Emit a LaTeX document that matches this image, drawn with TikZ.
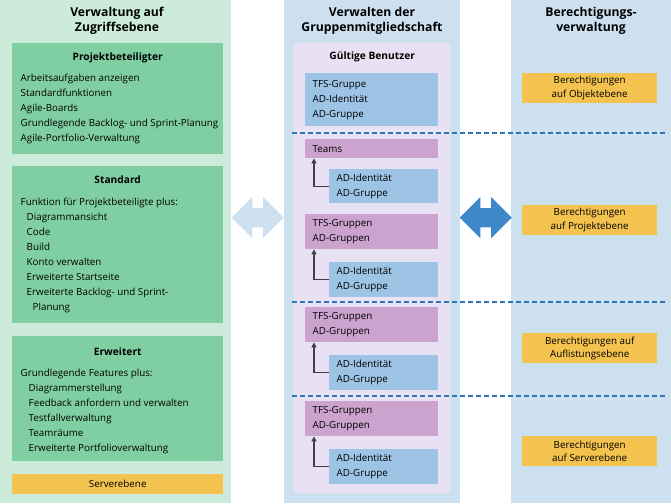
\documentclass[tikz,border=0pt]{standalone}
\usepackage{fontspec}
\setmainfont{Open Sans}
\usetikzlibrary{positioning,calc,shapes.arrows,arrows.meta}

\definecolor{accessbg}{HTML}{CDEBDB}
\definecolor{levelgreen}{HTML}{80CFA2}
\definecolor{serverorange}{HTML}{F3C24F}
\definecolor{panelblue}{HTML}{CCE0F0}
\definecolor{userlilac}{HTML}{E8E1F3}
\definecolor{identblue}{HTML}{9DC3E5}
\definecolor{grouppink}{HTML}{CBA3CE}
\definecolor{dashblue}{HTML}{2E75B6}
\definecolor{swapblue}{HTML}{3E88C9}
\definecolor{linkgray}{HTML}{404040}

\begin{document}
\begin{tikzpicture}[x=1pt, y=-1pt, >={Triangle[length=5pt,width=5pt]},
    font=\fontsize{9.8}{15}\selectfont]

    \tikzstyle{panel}   = [rectangle, anchor=north west, inner sep=0pt]
    \tikzstyle{head}    = [font=\fontsize{12.2}{15}\selectfont\bfseries, align=center, inner sep=0pt]
    \tikzstyle{boxhead} = [font=\fontsize{10.2}{15}\selectfont\bfseries, inner sep=0pt]
    \tikzstyle{body}    = [anchor=north west, align=left, inner sep=0pt]
    \tikzstyle{member}  = [rectangle, anchor=north west, align=left, inner xsep=7.5pt, inner ysep=0pt]
    \tikzstyle{perm}    = [rectangle, anchor=north west, fill=serverorange, minimum width=135pt,
                           minimum height=30pt, inner sep=0pt, align=center,
                           font=\fontsize{9.8}{13.5}\selectfont]
    \tikzstyle{swap}    = [double arrow, inner xsep=0pt, inner ysep=9.5pt, minimum height=52pt,
                           minimum width=41pt, double arrow head extend=11pt, double arrow tip angle=90]
    \tikzstyle{sep}     = [dashblue, line width=1.2pt, dash pattern=on 5pt off 3pt]

    \useasboundingbox (0,0) rectangle (671,503);

    % three columns
    \node (access) [panel, fill=accessbg, minimum width=231pt, minimum height=503pt] at (0,0) {};
    \node (groups) [panel, fill=panelblue, minimum width=176pt, minimum height=503pt] at (284,0) {};
    \node (perms)  [panel, fill=panelblue, minimum width=160pt, minimum height=503pt] at (511,0) {};

    \node (accesshead) [head] at (117,20.5) {Verwaltung auf\\Zugriffsebene};
    \node (groupshead) [head] at (372,20.5) {Verwalten der\\Gruppenmitgliedschaft};
    \node (permshead)  [head] at (591,20.5) {Berechtigungs-\\verwaltung};

    % access levels
    \node (stakeh)   [panel, fill=levelgreen, minimum width=211pt, minimum height=111pt] at (12,43) {};
    \node (basic)    [panel, fill=levelgreen, minimum width=211pt, minimum height=157pt] at (12,166) {};
    \node (advanced) [panel, fill=levelgreen, minimum width=211pt, minimum height=125pt] at (12,336) {};
    \node (server)   [panel, fill=serverorange, minimum width=211pt, minimum height=20pt] at (12,474) {Serverebene};

    \node (stakehhead)   [boxhead] at ($(stakeh.north)+(0,15)$)   {Projektbeteiligter};
    \node (basichead)    [boxhead] at ($(basic.north)+(0,14)$)    {Standard};
    \node (advancedhead) [boxhead] at ($(advanced.north)+(0,16)$) {Erweitert};

    \node (stakehbody) [body] at (20.5,74) {Arbeitsaufgaben anzeigen\\Standardfunktionen\\Agile-Boards\\
        Grundlegende Backlog- und Sprint-Planung\\Agile-Portfolio-Verwaltung};
    \node (basicbody) [body] at (20.5,198) {Funktion für Projektbeteiligte plus:\\
        \hspace{6pt}Diagrammansicht\\\hspace{6pt}Code\\\hspace{6pt}Build\\\hspace{6pt}Konto verwalten\\
        \hspace{6pt}Erweiterte Startseite\\\hspace{6pt}Erweiterte Backlog- und Sprint-\\\hspace{12pt}Planung};
    \node (advancedbody) [body] at (20.5,369) {Grundlegende Features plus:\\
        \hspace{8pt}Diagrammerstellung\\\hspace{8pt}Feedback anfordern und verwalten\\
        \hspace{8pt}Testfallverwaltung\\\hspace{8pt}Teamräume\\\hspace{8pt}Erweiterte Portfolioverwaltung};

    % group membership
    \node (valid) [panel, fill=userlilac, minimum width=156pt, minimum height=450pt] at (294,43) {};
    \node (validhead) [boxhead] at ($(valid.north)+(0,14)$) {Gültige Benutzer};

    \node (users)  [member, fill=identblue, text width=118pt, minimum height=53pt] at (305,73)
        {TFS-Gruppe\\AD-Identität\\AD-Gruppe};
    \node (teams)  [member, fill=grouppink, text width=118pt, minimum height=19pt] at (305,139) {Teams};
    \node (ident1) [member, fill=identblue, text width=94pt, minimum height=34pt] at (329,169)
        {AD-Identität\\AD-Gruppe};
    \node (coll1)  [member, fill=grouppink, text width=118pt, minimum height=35pt] at (305,214)
        {TFS-Gruppen\\AD-Gruppen};
    \node (ident2) [member, fill=identblue, text width=94pt, minimum height=35pt] at (329,262)
        {AD-Identität\\AD-Gruppe};
    \node (coll2)  [member, fill=grouppink, text width=118pt, minimum height=35pt] at (305,307)
        {TFS-Gruppen\\AD-Gruppen};
    \node (ident3) [member, fill=identblue, text width=94pt, minimum height=35pt] at (329,355)
        {AD-Identität\\AD-Gruppe};
    \node (coll3)  [member, fill=grouppink, text width=118pt, minimum height=35pt] at (305,401)
        {TFS-Gruppen\\AD-Gruppen};
    \node (ident4) [member, fill=identblue, text width=94pt, minimum height=35pt] at (329,449)
        {AD-Identität\\AD-Gruppe};

    \draw[->, linkgray, line width=1.2pt] (ident1.west) -| ([xshift=9pt]teams.south west);
    \draw[->, linkgray, line width=1.2pt] (ident2.west) -| ([xshift=9pt]coll1.south west);
    \draw[->, linkgray, line width=1.2pt] (ident3.west) -| ([xshift=9pt]coll2.south west);
    \draw[->, linkgray, line width=1.2pt] (ident4.west) -| ([xshift=9pt]coll3.south west);

    % permissions
    \node (objperm)    [perm] at (522,73)  {Berechtigungen\\auf Objektebene};
    \node (projperm)   [perm] at (522,205) {Berechtigungen\\auf Projektebene};
    \node (collperm)   [perm] at (522,333) {Berechtigungen auf\\Auflistungsebene};
    \node (serverperm) [perm] at (522,436) {Berechtigungen\\auf Serverebene};

    \draw[sep] (292,133) -- (668,133);
    \draw[sep] (292,302) -- (668,302);
    \draw[sep] (292,396) -- (668,396);

    \node (leftswap)  [swap, fill=panelblue] at ($(access.east)!0.5!(groups.west)+(0,-34)$) {};
    \node (rightswap) [swap, fill=swapblue]  at ($(groups.east)!0.5!(perms.west)+(0,-34)$)  {};

\end{tikzpicture}
\end{document}
